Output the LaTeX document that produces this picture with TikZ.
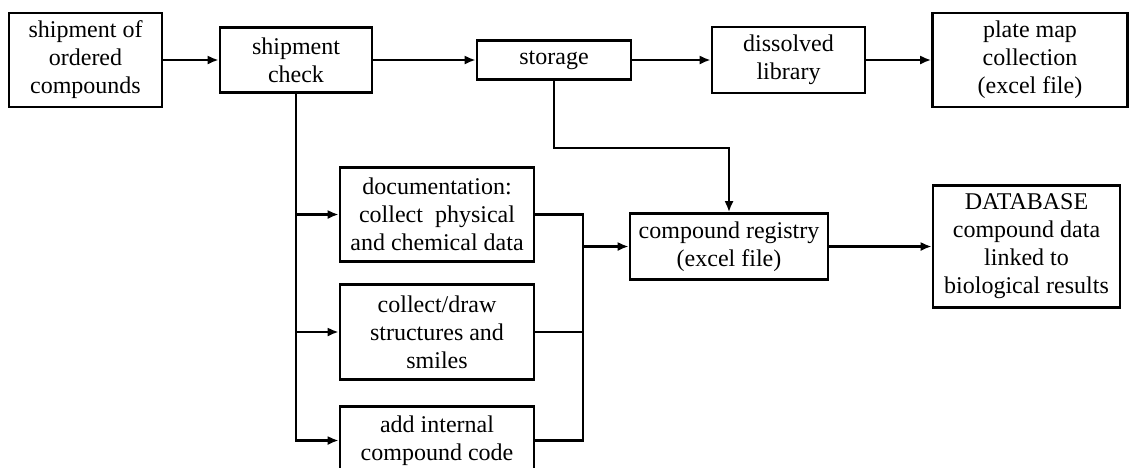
\documentclass[tikz,border=0pt]{standalone}
\usepackage{fontspec}
\setmainfont{Liberation Serif}
\usepackage{tikz}
\usetikzlibrary{arrows.meta, positioning}
\tikzstyle{box} = [rectangle, draw=black, line width=2.6pt, align=center, inner sep=2pt, font=\fontsize{24}{28}\selectfont]
\tikzstyle{arrow} = [line width=2.2pt, -{Latex[length=11pt,width=9pt]}]
\tikzstyle{link} = [line width=2.2pt]

\begin{document}
\begin{tikzpicture}[x=1pt, y=1pt, node distance=240pt]
\useasboundingbox (0,0) rectangle (1131,-467);
\clip (0,0) rectangle (1131,-467);

% top row
\node (ship) [box, minimum width=153pt, minimum height=94pt] at (85.5,-60) {shipment of\\ordered\\compounds};
\node (check) [box, right of=ship, xshift=-29.5pt, minimum width=152pt, minimum height=65pt] {shipment\\check};
\node (storage) [box, right of=check, xshift=18pt, minimum width=154pt, minimum height=39pt] {storage};
\node (dissolved) [box, right of=storage, xshift=-5.5pt, minimum width=153pt, minimum height=66pt] {dissolved\\library};
\node (plate) [box, right of=dissolved, xshift=1.5pt, minimum width=195pt, minimum height=94pt] {plate map\\collection\\(excel file)};

% documentation stack
\node (doc) [box, below of=check, xshift=141pt, yshift=85.5pt, minimum width=194pt, minimum height=94pt] {documentation:\\collect~ physical\\and chemical data};
\node (drawing) [box, below of=doc, yshift=122.5pt, minimum width=194pt, minimum height=95pt] {collect/draw\\structures and\\smiles};
\node (code) [box, below of=drawing, yshift=131.5pt, minimum width=194pt, minimum height=68pt] {add internal\\compound code};

% registry and database
\node (registry) [box, right of=doc, xshift=52pt, yshift=-32pt, minimum width=198pt, minimum height=66pt] {compound registry\\(excel file)};
\node (database) [box, right of=registry, xshift=57.5pt, minimum width=187pt, minimum height=122pt] {DATABASE\\compound data\\linked to\\biological results};

\draw [arrow] (ship) -- (check);
\draw [arrow] (check) -- (storage);
\draw [arrow] (storage) -- (dissolved);
\draw [arrow] (dissolved) -- (plate);
\draw [arrow] (storage.south) -- ++(0,-67) -| (registry.north);

\draw [arrow] (check.south) |- (code.west);
\draw [arrow] (check.south |- doc.west) -- (doc.west);
\draw [arrow] (check.south |- drawing.west) -- (drawing.west);

\coordinate [right=48pt of doc.east] (join);
\draw [link] (doc.east) -- (join) |- (code.east);
\draw [link] (drawing.east) -- (drawing.east -| join);
\draw [arrow] (join |- registry.west) -- (registry.west);
\draw [arrow] (registry) -- (database);

\end{tikzpicture}
\end{document}
